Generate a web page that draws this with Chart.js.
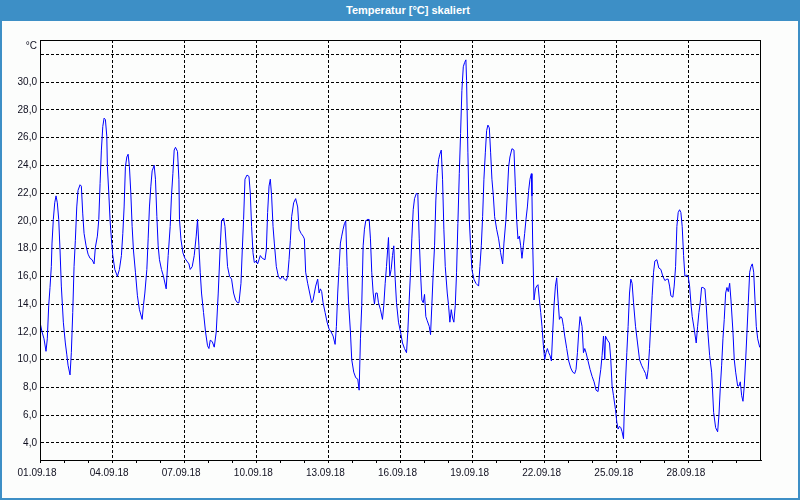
<!DOCTYPE html>
<html>
<head>
<meta charset="utf-8">
<script src="https://cdn.jsdelivr.net/npm/chart.js@4.4.1/dist/chart.umd.min.js"></script>
<style>
  html, body { margin: 0; padding: 0; }
  body { width: 800px; height: 500px; position: relative; overflow: hidden;
         background: #fcfdfc; font-family: "Liberation Sans", Arial, sans-serif; }
  #frame { position: absolute; left: 0; top: 0; width: 800px; height: 500px; box-sizing: border-box;
           border: 2px solid #3d8fc6; border-top: none; }
  #title { position: absolute; left: 0; top: 0; width: 800px; height: 21px; box-sizing: border-box;
           background: #3d8fc6; color: #fff; font-weight: bold; font-size: 11px;
           line-height: 20px; text-align: center; padding-left: 16px; }
  #c { position: absolute; left: 0; top: 0; }
</style>
</head>
<body>
<div id="frame"></div>
<div id="title">Temperatur [°C] skaliert</div>
<canvas id="c" width="800" height="500"></canvas>
<script>
// hours since 01.09.18 00:00
const hours = [
  0,2,4,6,7.3,8.7,10,11.3,12,13.3,
  14.7,16,17.3,18.7,20,21.3,23.3,25.3,26.7,28,
  30,31.3,32.7,34,35.3,36.7,38,40,41.3,42.7,
  44,46,48,50,52,54,55.3,57.3,58.7,60,
  61.3,62.7,64,65.3,66.7,67.3,68.7,70,71.3,72.7,
  74.7,77.3,79.3,81.3,82.7,84,85.3,86.7,88,89.3,
  90.7,92,93.3,95.3,97.3,99.3,102,103.3,104.7,106.7,
  108,109.3,110.7,112,114,115.3,116.7,118,119.3,121.3,
  123.3,126,128,130,131.3,132.7,134,135.3,137.3,138.7,
  139.3,140.7,142.7,144.7,146.7,148.7,150,152,154,156,
  157.3,158.7,160,161.3,163.3,165.3,167.3,168.7,170,172,
  174,176,178,180,181.3,183.3,184.7,186,187.3,189.3,
  191.3,193.3,195.3,197.3,198.7,200.7,202,203.3,204.7,206.7,
  208.7,210,211.3,212.7,214,216,217.3,218.7,220,222,
  224.7,226,227.3,228.7,230,231.3,232.7,234,236,238,
  240,242,244,246,247.3,248.7,250,251.3,253.3,255.3,
  257.3,258.7,260.7,262.7,264,265.3,267.3,269.3,271.3,272.7,
  274,275.3,277.3,278.7,280,281.3,282.7,284.7,286.7,288.7,
  290.7,292.7,294.7,296,297.3,298.7,300,301.3,302.7,304,
  305.3,306.7,308,310,311.3,313.3,315.3,317.3,318.7,320,
  321.3,322.7,324,325.3,326.7,328.7,330,331.3,332.7,334,
  335.3,336.7,338,340,342,343.3,344.7,346,348,349.3,
  350.7,352,353.3,354.7,356,358,
  360,362,364,366,367.3,368.7,370,371.3,372.7,374,
  376,377.3,378.7,380,381.3,382.7,384,385.3,386.7,388.7,
  390,391.3,392.7,394,395.3,396.7,398,399.3,400.7,402,
  403.3,404.7,406.7,408,409.3,410.7,412,413.3,414.7,416,
  417.3,418.7,420,421.3,422.7,424,425.3,426,427.3,428.7,
  430,431.3,433.3,435.3,438,439.3,440.7,442,443.3,444.7,
  446,447.3,448.7,450,451.3,452.7,454,456,458,460,
  462,463.3,465.3,466.7,468,469.3,471.3,473.3,474.7,476,
  477.3,478.7,480,481.3,482.7,484,485.3,486.7,488,489.3,
  490.7,491.3,492,493.3,494.7,496,497.3,498.7,500,501.3,
  502.7,504,505.3,506.7,508,509.3,510.7,512,513.3,514.7,
  516,517.3,518.7,520,521.3,522.7,524,526,528,530,
  532,534,535.3,536.7,538,539.3,
  541.3,542.7,544,545.3,547.3,549.3,551.3,553.3,555.3,557.3,
  558.7,560,561.3,562.7,564,564.7,566.7,568.7,570,571.3,
  572.7,574.7,576,577.3,578.7,580,581.3,582.7,583.3,584.7,
  586,587.3,588.7,590,591.3,592.7,594.7,596.7,598.7,600.7,
  602.7,604.7,606,607.3,608.7,610,611.3,612.7,614,616,
  618,620,622,624,626,627.3,628.7,630,632,633.3,
  634.7,636,637.3,638.7,640,641.3,642.7,644,646,647.3,
  648.7,650,651.3,653.3,655.3,656.7,658,659.3,660.7,662,
  664,665.3,666.7,668.7,670.7,672.7,674.7,676.7,678,679.3,
  680.7,682,683.3,684.7,686,687.3,688.7,690,692,693.3,
  694.7,696.7,698,699.3,700.7,702,703.3,704.7,706,707.3,
  708.7,710,711.3,712.7,714,715.3,716.7,718.7,720
];

// temperature in °C
const temps = [
  12.7,12.0,11.5,10.6,11.5,13.9,15.2,16.7,18.4,20.1,
  21.3,21.8,21.3,20.1,17.9,15.3,12.7,11.2,10.4,9.6,
  8.9,10.5,13.4,16.7,18.6,21.0,22.2,22.6,22.5,20.5,
  19.1,18.2,17.6,17.3,17.2,16.9,18.1,18.9,20.1,22.7,
  25.1,26.8,27.4,27.3,26.1,23.9,22.0,20.0,18.7,17.5,
  16.5,16.0,16.5,17.5,19.1,21.0,23.9,24.6,24.8,23.9,
  22.0,19.6,17.9,16.3,14.6,13.6,12.9,13.9,14.8,16.5,
  18.7,21.0,22.5,23.6,24.0,23.0,20.3,18.2,17.2,16.5,
  16.0,15.1,17.5,19.6,21.8,23.4,25.1,25.3,25.0,23.0,
  20.1,18.7,17.7,17.3,17.1,16.9,16.5,16.7,17.5,18.9,
  20.1,18.2,16.3,14.8,13.4,12.0,11.0,10.8,11.4,11.3,
  10.9,12.0,14.8,18.2,20.0,20.2,19.6,18.2,16.7,16.0,
  15.8,14.8,14.3,14.1,14.1,15.5,17.9,20.1,23.0,23.3,
  23.2,22.0,19.6,17.7,17.0,17.1,16.9,17.2,17.5,17.3,
  17.2,17.9,20.6,22.5,23.0,21.8,19.6,18.4,16.7,16.0,
  15.8,16.0,15.8,15.7,16.0,17.2,18.6,20.3,21.3,21.6,
  21.0,19.4,19.1,18.9,18.7,16.3,15.5,14.8,14.1,14.3,
  14.8,15.3,15.8,14.8,15.1,14.9,14.1,13.4,12.7,12.2,
  12.0,11.7,11.1,12.4,14.8,16.7,18.4,18.9,19.4,19.8,
  20.0,16.7,14.3,12.0,10.0,9.1,8.7,8.6,7.8,11.5,
  13.9,18.2,19.4,20.0,20.1,20.1,18.7,16.3,14.8,14.0,
  14.8,14.8,14.1,13.6,12.9,13.9,15.5,16.7,18.8,16.0,
  16.5,17.5,18.2,15.8,14.1,12.7,
  12.0,11.2,10.8,10.5,12.0,14.3,16.3,18.7,20.8,21.6,
  22.0,21.9,18.7,16.3,14.3,14.1,14.7,13.1,12.8,12.4,
  11.8,13.9,16.3,18.2,21.5,23.4,24.4,24.8,25.1,23.0,
  19.4,16.7,14.8,13.9,12.7,13.6,13.0,12.7,13.9,16.3,
  19.8,23.4,26.3,29.4,31.1,31.4,31.6,30.1,24.9,20.1,
  18.2,16.5,15.8,15.5,15.3,16.7,18.2,20.3,23.0,24.9,
  26.5,26.9,26.7,24.9,23.0,21.8,20.3,19.4,18.7,17.7,
  16.9,18.4,20.1,22.0,23.9,24.6,25.2,25.1,22.5,20.1,
  18.7,18.9,18.2,17.3,18.2,19.1,20.1,21.0,22.2,23.0,
  23.4,21.8,18.4,14.3,15.1,15.3,15.4,14.3,13.4,12.4,
  11.0,10.0,10.5,10.8,10.5,10.3,9.9,12.0,13.9,15.3,
  15.9,14.3,12.9,13.1,13.0,12.4,11.7,10.8,9.9,9.4,
  9.1,9.0,9.3,10.5,12.0,13.1,
  12.4,10.5,10.8,10.5,9.9,9.3,8.8,8.4,7.8,7.7,
  8.6,9.3,10.3,11.7,10.0,11.7,11.4,11.2,10.0,8.1,
  7.4,6.4,5.5,5.0,5.2,5.1,4.8,4.3,5.9,8.4,
  10.5,12.4,14.8,15.8,15.5,14.1,12.4,11.2,10.0,9.6,
  9.3,9.0,8.6,9.3,10.8,12.7,14.6,16.3,17.1,17.2,
  16.6,16.5,16.0,15.7,15.8,15.8,15.3,14.6,14.5,15.3,
  16.7,19.6,20.6,20.8,20.6,19.6,17.5,16.0,16.1,16.0,
  15.3,14.1,13.1,12.2,11.2,12.4,13.4,14.1,15.2,15.2,
  15.1,13.9,12.2,10.3,9.1,6.2,5.1,4.8,6.0,7.9,
  9.6,11.5,12.9,14.8,15.2,14.9,15.5,14.3,12.0,10.0,
  9.1,8.1,8.1,8.4,7.4,7.0,8.1,10.0,12.0,14.1,
  16.3,16.7,16.9,16.3,14.3,12.4,11.5,10.9,10.9
];

if (hours.length !== temps.length) {
  throw new Error("length mismatch " + hours.length + " / " + temps.length);
}

// axis ticks
const dayTicks = [];
for (let d = 0; d < 30; d++) dayTicks.push(d * 24);
const dateLabels = ["01.09.18", "04.09.18", "07.09.18", "10.09.18", "13.09.18",
                    "16.09.18", "19.09.18", "22.09.18", "25.09.18", "28.09.18"];
const tempTicks = [4, 6, 8, 10, 12, 14, 16, 18, 20, 22, 24, 26, 28, 30, 32];

const labelFont = { family: "Liberation Sans", size: 10 };

// black frame round the plot + unit label
const framePlugin = {
  id: "frame",
  afterDraw(chart) {
    const { ctx, chartArea: a } = chart;
    ctx.save();
    ctx.strokeStyle = "#000";
    ctx.lineWidth = 1;
    ctx.strokeRect(a.left + 0.5, a.top + 0.5, a.right - a.left - 1, a.bottom - a.top);
    ctx.fillStyle = "#101020";
    ctx.font = "10px 'Liberation Sans'";
    ctx.textAlign = "right";
    ctx.textBaseline = "top";
    ctx.fillText("°C", a.left - 3, a.top + 1);
    ctx.restore();
  }
};

new Chart(document.getElementById("c"), {
  type: "line",
  data: {
    datasets: [{
      data: hours.map((h, i) => ({ x: h, y: temps[i] })),
      borderColor: "#0000ff",
      borderWidth: 1,
      pointRadius: 0,
      tension: 0,
      fill: false
    }]
  },
  options: {
    responsive: false,
    animation: false,
    layout: { padding: { top: 40, right: 39, left: 0, bottom: 0 } },
    plugins: { legend: { display: false }, tooltip: { enabled: false } },
    scales: {
      x: {
        type: "linear",
        min: 0,
        max: 720,
        afterBuildTicks: s => { s.ticks = dayTicks.map(v => ({ value: v })); },
        afterFit: s => { s.height = 40; },
        grid: {
          color: c => (c.tick && c.tick.value > 0 && c.tick.value % 72 === 0) ? "#000" : "rgba(0,0,0,0)",
          tickColor: "#000",
          tickLength: 3,
          tickBorderDash: [],
          lineWidth: 1
        },
        border: { display: true, color: "#000", dash: [3, 2] },
        ticks: {
          autoSkip: false,
          maxRotation: 0,
          padding: 4,
          labelOffset: -3,
          color: "#101020",
          font: labelFont,
          callback: v => (v % 72 === 0 ? dateLabels[v / 72] : "")
        }
      },
      y: {
        min: 2.77,
        max: 33.03,
        afterBuildTicks: s => { s.ticks = tempTicks.map(v => ({ value: v })); },
        afterFit: s => { s.width = 40; },
        grid: { color: "#000", drawTicks: false, lineWidth: 1 },
        border: { display: true, color: "#000", dash: [3, 2] },
        ticks: {
          padding: 3,
          color: "#101020",
          font: labelFont,
          callback: v => (v === 32 ? "" : v.toFixed(1).replace(".", ","))
        }
      }
    }
  },
  plugins: [framePlugin]
});
</script>
</body>
</html>
